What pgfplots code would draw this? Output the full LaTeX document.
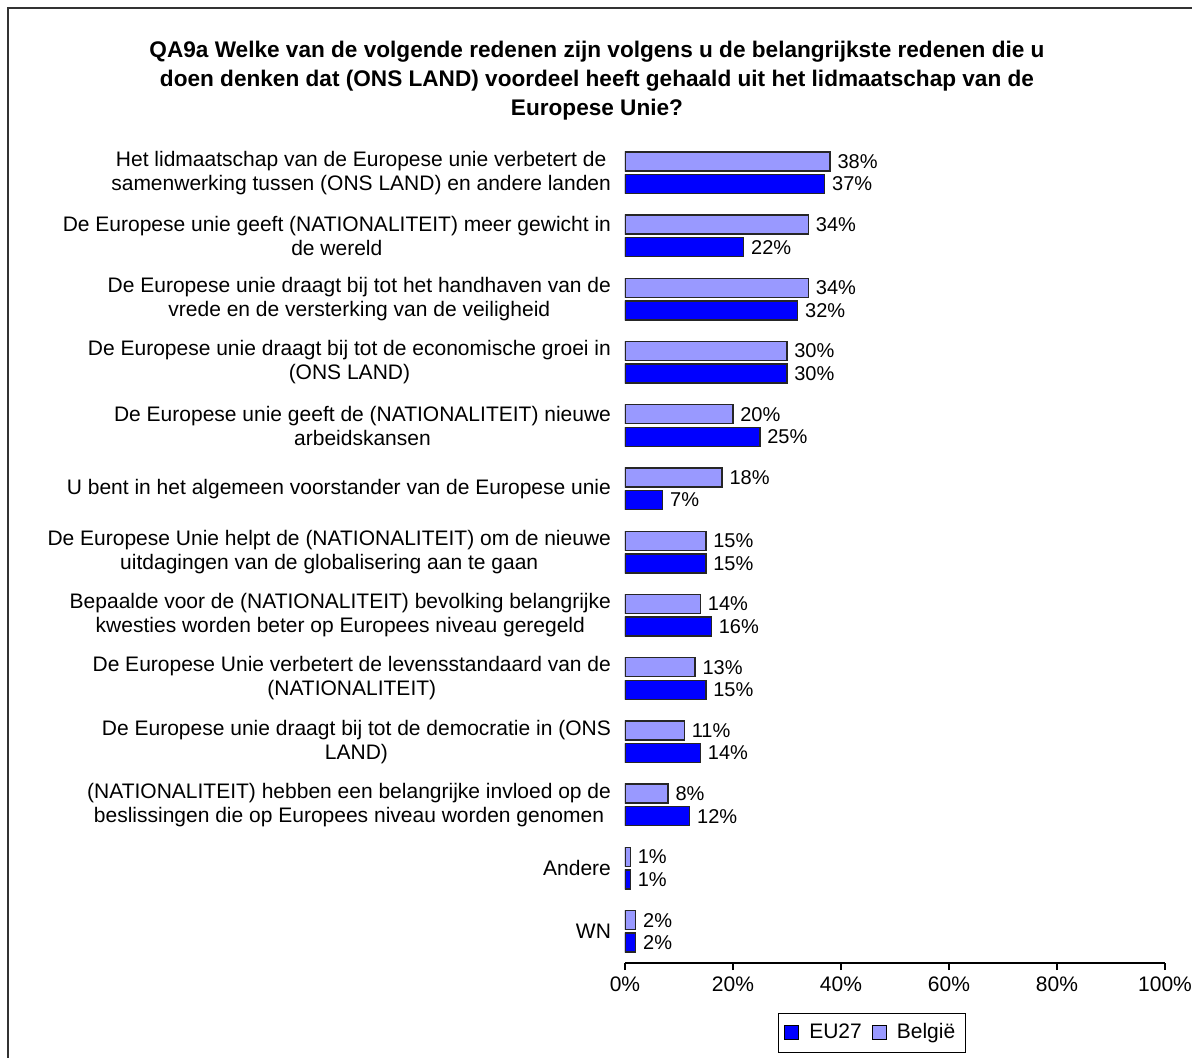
\documentclass[border=0pt]{standalone}
\usepackage{pgfplots}
\pgfplotsset{compat=1.18}
\usepackage{pgfplotstable}
\usepackage{fontspec}
\setmainfont{Liberation Sans}
\definecolor{eucol}{RGB}{0,0,255}
\definecolor{becol}{RGB}{153,153,255}
\definecolor{framecol}{RGB}{50,50,50}
\pgfplotstableread{
y eu be
12 37 38
11 22 34
10 32 34
9 30 30
8 25 20
7 7 18
6 15 15
5 16 14
4 15 13
3 14 11
2 12 8
1 1 1
0 2 2
}\datatable
\begin{document}
\begin{tikzpicture}
\useasboundingbox (-312.5pt,-47pt) rectangle (283.5pt,481.5pt);
\draw[framecol, line width=1pt] (-308.5pt,-60pt) -- (-308.5pt,477.5pt) -- (300pt,477.5pt);
\node[align=center, font=\fontsize{11.3}{14.5}\selectfont\bfseries] at (-14pt,441pt)
{QA9a Welke van de volgende redenen zijn volgens u de belangrijkste redenen die u\\
doen denken dat (ONS LAND) voordeel heeft gehaald uit het lidmaatschap van de\\
Europese Unie?};
\begin{axis}[
  at={(0pt,0pt)}, anchor=south west,
  scale only axis, width=270pt, height=411pt,
  xbar, bar width=9.5pt,
  xmin=0, xmax=100, ymin=-0.5, ymax=12.5,
  axis x line*=bottom, axis y line*=left,
  y axis line style={draw=none},
  ytick={0,...,12}, ytick style={draw=none},
  yticklabels={{WN},{Andere},
    {(NATIONALITEIT) hebben een belangrijke invloed op de\\beslissingen die op Europees niveau worden genomen},
    {De Europese unie draagt bij tot de democratie in (ONS\\LAND)},
    {De Europese Unie verbetert de levensstandaard van de\\(NATIONALITEIT)},
    {Bepaalde voor de (NATIONALITEIT) bevolking belangrijke\\kwesties worden beter op Europees niveau geregeld},
    {De Europese Unie helpt de (NATIONALITEIT) om de nieuwe\\uitdagingen van de globalisering aan te gaan},
    {U bent in het algemeen voorstander van de Europese unie},
    {De Europese unie geeft de (NATIONALITEIT) nieuwe\\arbeidskansen},
    {De Europese unie draagt bij tot de economische groei in\\(ONS LAND)},
    {De Europese unie draagt bij tot het handhaven van de\\vrede en de versterking van de veiligheid},
    {De Europese unie geeft (NATIONALITEIT) meer gewicht in\\de wereld},
    {Het lidmaatschap van de Europese unie verbetert de\\samenwerking tussen (ONS LAND) en andere landen}},
  yticklabel style={align=center, font=\fontsize{10.5}{12}\selectfont},
  xtick={0,20,...,100},
  xtick align=outside, major tick length=3.5pt,
  xticklabel={\pgfmathprintnumber[assume math mode=true]{\tick}\%},
  xticklabel style={font=\fontsize{10.5}{12}\selectfont},
  axis line style={black, line width=0.6pt},
  x tick style={black, line width=0.6pt},
  nodes near coords={\pgfmathprintnumber[assume math mode=true]{\pgfplotspointmeta}\%},
  nodes near coords style={font=\fontsize{10}{12}\selectfont, anchor=west, text=black},
  legend style={at={(0.457,-0.085)}, anchor=center, legend columns=2, draw=black,
    font=\fontsize{10.5}{12}\selectfont, inner sep=3pt, column sep=3pt},
  legend image code/.code={\draw[#1, draw=black, line width=0.5pt] (0pt,-3.5pt) rectangle (7pt,3.5pt);},
]
\addplot[fill=eucol, draw=black!85, line width=0.7pt, bar shift=-5.65pt] table[x=eu, y=y] {\datatable};
\addlegendentry{EU27}
\addplot[fill=becol, draw=black!85, line width=0.7pt, bar shift=5.65pt] table[x=be, y=y] {\datatable};
\addlegendentry{België}
\end{axis}
\end{tikzpicture}
\end{document}
